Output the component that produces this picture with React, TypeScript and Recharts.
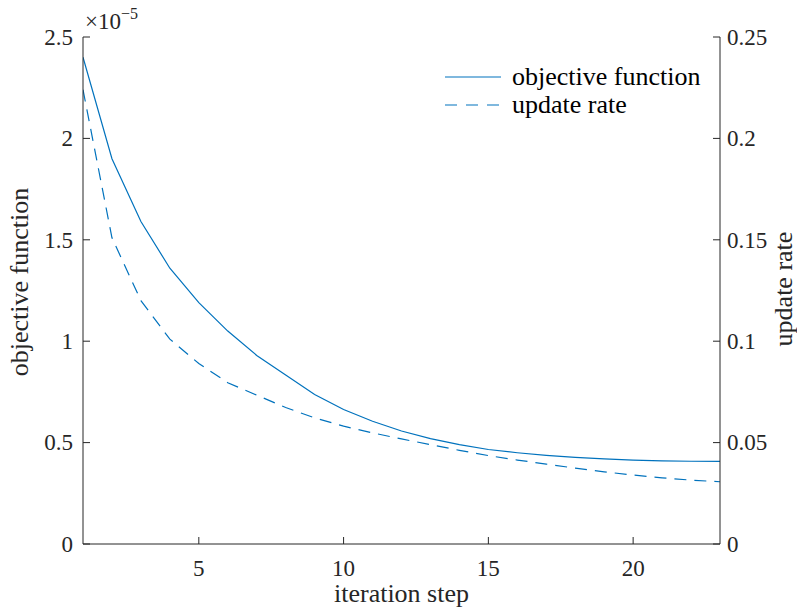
import React from 'react';
import { LineChart, Line, XAxis, YAxis, Legend } from 'recharts';

// iteration steps 1..23
const steps = [1, 2, 3, 4, 5, 6, 7, 8, 9, 10, 11, 12, 13, 14, 15, 16, 17, 18, 19, 20, 21, 22, 23];

// objective function, in units of 1e-5
const objective = [
  2.4, 1.9, 1.59, 1.36, 1.19, 1.05, 0.93, 0.833, 0.737, 0.663, 0.605, 0.557, 0.52, 0.49, 0.466,
  0.45, 0.437, 0.427, 0.42, 0.414, 0.41, 0.408, 0.407,
];

// update rate (right axis)
const updateRate = [
  0.224, 0.151, 0.12, 0.101, 0.089, 0.0795, 0.0734, 0.0673, 0.0622, 0.0581, 0.0548, 0.0518,
  0.049, 0.0462, 0.0436, 0.0414, 0.0394, 0.0374, 0.0356, 0.034, 0.0326, 0.0315, 0.0307,
];

const xTicks = [5, 10, 15, 20];
const leftTicks = [0, 0.5, 1, 1.5, 2, 2.5];
const rightTicks = [0, 0.05, 0.1, 0.15, 0.2, 0.25];

const seriesNames = ['objective function', 'update rate'];

const data = steps.map((s, i) => ({ step: s, objective: objective[i], rate: updateRate[i] }));

const W = 797;
const H = 609;
const PLOT_LEFT = 83;
const PLOT_RIGHT = 720;
const PLOT_TOP = 37;
const PLOT_BOTTOM = 544;
const TICK_LEN = 7;

const FONT = '"Liberation Serif", "Times New Roman", serif';
const TICK_FS = 23;
const LABEL_FS = 26;
const TEXT = '#262626';
const AXIS = '#262626';
const BLUE = '#0072BD';

const LeftTick = (props: any) => {
  const { y, payload } = props;
  return (
    <g>
      <line x1={PLOT_LEFT} x2={PLOT_LEFT + TICK_LEN} y1={y} y2={y} stroke={AXIS} strokeWidth={1} />
      <text x={PLOT_LEFT - 10} y={y} dy="0.34em" textAnchor="end" fontSize={TICK_FS} fontFamily={FONT} fill={TEXT}>
        {payload.value}
      </text>
    </g>
  );
};

const RightTick = (props: any) => {
  const { y, payload } = props;
  return (
    <g>
      <line x1={PLOT_RIGHT - TICK_LEN} x2={PLOT_RIGHT} y1={y} y2={y} stroke={AXIS} strokeWidth={1} />
      <text x={PLOT_RIGHT + 7} y={y} dy="0.34em" textAnchor="start" fontSize={TICK_FS} fontFamily={FONT} fill={TEXT}>
        {payload.value}
      </text>
    </g>
  );
};

const BottomTick = (props: any) => {
  const { x, payload } = props;
  return (
    <g>
      <line x1={x} x2={x} y1={PLOT_BOTTOM - TICK_LEN} y2={PLOT_BOTTOM} stroke={AXIS} strokeWidth={1} />
      <text x={x} y={PLOT_BOTTOM + 32} textAnchor="middle" fontSize={TICK_FS} fontFamily={FONT} fill={TEXT}>
        {payload.value}
      </text>
    </g>
  );
};

const TopTick = (props: any) => {
  const { x } = props;
  return <line x1={x} x2={x} y1={PLOT_TOP} y2={PLOT_TOP + TICK_LEN} stroke={AXIS} strokeWidth={1} />;
};

const LeftLabel = () => (
  <g>
    <text
      x={28}
      y={282}
      transform="rotate(-90, 28, 282)"
      textAnchor="middle"
      fontSize={LABEL_FS}
      fontFamily={FONT}
      fill={TEXT}
    >
      objective function
    </text>
    <text x={85} y={29} fontSize={TICK_FS} fontFamily={FONT} fill={TEXT}>
      ×10
      <tspan dy={-10} fontSize={16}>
        −5
      </tspan>
    </text>
  </g>
);

const RightLabel = () => (
  <text
    x={792}
    y={289}
    transform="rotate(-90, 792, 289)"
    textAnchor="middle"
    fontSize={LABEL_FS}
    fontFamily={FONT}
    fill={TEXT}
  >
    update rate
  </text>
);

const BottomLabel = () => (
  <text x={(PLOT_LEFT + PLOT_RIGHT) / 2} y={602} textAnchor="middle" fontSize={LABEL_FS} fontFamily={FONT} fill={TEXT}>
    iteration step
  </text>
);

const LegendBox = () => (
  <div style={{ fontFamily: FONT, fontSize: LABEL_FS, color: '#000', lineHeight: '28px' }}>
    <div style={{ display: 'flex', alignItems: 'center' }}>
      <svg width={56} height={10} style={{ marginRight: 11 }}>
        <line x1={0} x2={56} y1={5} y2={5} stroke={BLUE} strokeWidth={1.2} />
      </svg>
      {seriesNames[0]}
    </div>
    <div style={{ display: 'flex', alignItems: 'center' }}>
      <svg width={56} height={10} style={{ marginRight: 11 }}>
        <line x1={0} x2={56} y1={5} y2={5} stroke={BLUE} strokeWidth={1.2} strokeDasharray="12 9" />
      </svg>
      {seriesNames[1]}
    </div>
  </div>
);

const App: React.FC = () => {
  return (
    <div style={{ position: 'absolute', left: 0, top: 0, width: W, height: H, background: '#fff' }}>
      <LineChart width={W} height={H} data={data} margin={{ top: PLOT_TOP, right: 0, bottom: 0, left: 0 }}>
        <XAxis
          dataKey="step"
          type="number"
          domain={[1, 23]}
          ticks={xTicks}
          height={H - PLOT_BOTTOM}
          stroke={AXIS}
          tickLine={false}
          tick={<BottomTick />}
          allowDataOverflow
          label={<BottomLabel />}
        />
        <XAxis
          xAxisId="top"
          dataKey="step"
          type="number"
          orientation="top"
          domain={[1, 23]}
          ticks={xTicks}
          height={0}
          stroke={AXIS}
          tickLine={false}
          tick={<TopTick />}
        />
        <YAxis
          yAxisId="left"
          domain={[0, 2.5]}
          ticks={leftTicks}
          width={PLOT_LEFT}
          stroke={AXIS}
          tickLine={false}
          tick={<LeftTick />}
          allowDataOverflow
          label={<LeftLabel />}
        />
        <YAxis
          yAxisId="right"
          orientation="right"
          domain={[0, 0.25]}
          ticks={rightTicks}
          width={W - PLOT_RIGHT}
          stroke={AXIS}
          tickLine={false}
          tick={<RightTick />}
          allowDataOverflow
          label={<RightLabel />}
        />
        <Legend
          layout="vertical"
          verticalAlign="middle"
          align="center"
          content={<LegendBox />}
          wrapperStyle={{ position: 'absolute', left: 445, top: 63, width: 'auto', height: 'auto' }}
        />
        <Line
          yAxisId="left"
          dataKey="objective"
          name={seriesNames[0]}
          stroke={BLUE}
          strokeWidth={1.2}
          dot={false}
          isAnimationActive={false}
        />
        <Line
          yAxisId="right"
          dataKey="rate"
          name={seriesNames[1]}
          stroke={BLUE}
          strokeWidth={1.2}
          strokeDasharray="12 8"
          dot={false}
          isAnimationActive={false}
        />
      </LineChart>
    </div>
  );
};

export default App;
